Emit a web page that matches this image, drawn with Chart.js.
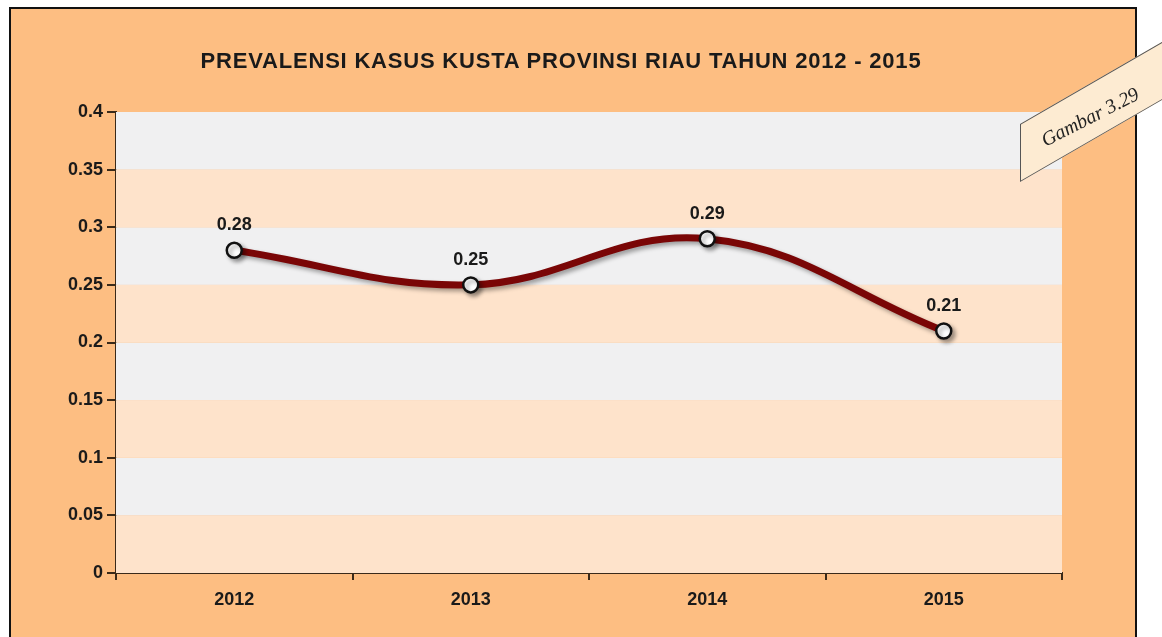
<!DOCTYPE html>
<html><head><meta charset="utf-8">
<script src="https://cdn.jsdelivr.net/npm/chart.js@4.4.0/dist/chart.umd.min.js"></script>
<style>
html,body{margin:0;padding:0;background:#fff;width:1162px;height:637px;overflow:hidden;}
#frame{position:absolute;left:9px;top:7px;width:1124px;height:660px;background:#fdbe82;border:2px solid #111;}
#wrap{position:absolute;left:0;top:0;width:1162px;height:637px;}
#title{position:absolute;left:0;width:1122px;top:48px;text-align:center;font-family:"Liberation Sans",Arial,sans-serif;
 font-weight:bold;font-size:22px;line-height:26px;letter-spacing:0.8px;color:#1a1a1a;}
#tag{position:absolute;left:1020px;top:124px;width:170px;height:58px;background:#fdebd2;border:1px solid #555;
 transform-origin:0 0;transform:skewY(-30deg);box-sizing:border-box;}
#tagtxt{position:absolute;left:1045px;top:130px;font-family:"Liberation Serif","DejaVu Serif",serif;font-style:italic;
 font-size:20px;line-height:20px;color:#222;transform-origin:0 16px;transform:rotate(-27deg);white-space:nowrap;}
</style></head>
<body>
<div id="frame"></div>
<div id="wrap"><canvas id="c" width="1162" height="637"></canvas></div>
<div id="title"></div>
<div id="tag"></div>
<div id="tagtxt">Gambar 3.29</div>
<script>
const categories = ["2012","2013","2014","2015"];
const prevalensi = [0.28, 0.25, 0.29, 0.21];
const yTicks = [0,0.05,0.1,0.15,0.2,0.25,0.3,0.35,0.4];
const chartTitle = "PREVALENSI KASUS KUSTA PROVINSI RIAU TAHUN 2012 - 2015";
document.getElementById('title').textContent = chartTitle;

const FONT = '"Liberation Sans", Arial, sans-serif';
const bands = {
  id:'bands',
  beforeDatasetsDraw(chart){
    const {ctx, chartArea:a, scales:{y}} = chart;
    ctx.save();
    for(let i=0;i<yTicks.length-1;i++){
      const y0=y.getPixelForValue(yTicks[i]), y1=y.getPixelForValue(yTicks[i+1]);
      ctx.fillStyle = (i%2===0)?'#fee3cb':'#f0f0f1';
      ctx.fillRect(a.left, y1, a.right-a.left, y0-y1);
    }
    ctx.restore();
  }
};
const shadow = {
  id:'shadow',
  beforeDatasetDraw(chart){ const c=chart.ctx; c.save(); c.shadowColor='rgba(0,0,0,0.35)'; c.shadowBlur=4; c.shadowOffsetX=3; c.shadowOffsetY=3; },
  afterDatasetDraw(chart){ chart.ctx.restore(); }
};
const labels = {
  id:'labels',
  afterDatasetsDraw(chart){
    const {ctx} = chart; const meta = chart.getDatasetMeta(0);
    ctx.save(); ctx.font='bold 18px '+FONT; ctx.fillStyle='#1a1a1a';
    ctx.textAlign='center'; ctx.textBaseline='middle';
    meta.data.forEach((p,i)=>{ ctx.fillText(String(prevalensi[i]), p.x, p.y-25); });
    ctx.restore();
  }
};

new Chart(document.getElementById('c'), {
  type:'line',
  data:{ labels:categories, datasets:[{
    data:prevalensi, borderColor:'#7a0606', borderWidth:7, tension:0.4,
    pointRadius:7.5, pointBackgroundColor:'#fff', pointBorderColor:'#111', pointBorderWidth:2.5, pointHoverRadius:7.5
  }]},
  options:{
    responsive:false, animation:false, devicePixelRatio:1,
    layout:{padding:{left:0,right:100,top:112,bottom:0}},
    plugins:{ legend:{display:false}, tooltip:{enabled:false}, title:{display:false} },
    scales:{
      x:{ offset:true,
        grid:{offset:true, drawOnChartArea:false, drawTicks:true, tickLength:7, color:'#3a2a1a', lineWidth:2},
        border:{display:true, color:'#3a2a1a', width:2},
        ticks:{color:'#1a1a1a', font:{family:FONT, size:18, weight:'bold'}, padding:9},
        afterFit(s){ s.height=64; }
      },
      y:{ min:0, max:0.4,
        afterBuildTicks(s){ s.ticks = yTicks.map(v=>({value:v})); },
        grid:{drawOnChartArea:false, drawTicks:true, tickLength:9, color:'#3a2a1a', lineWidth:2},
        border:{display:true, color:'#3a2a1a', width:2},
        ticks:{color:'#1a1a1a', font:{family:FONT, size:18, weight:'bold'}, padding:4,
          callback:(v)=>String(v)},
        afterFit(s){ s.width=116; }
      }
    }
  },
  plugins:[bands, shadow, labels]
});
</script>
</body></html>
